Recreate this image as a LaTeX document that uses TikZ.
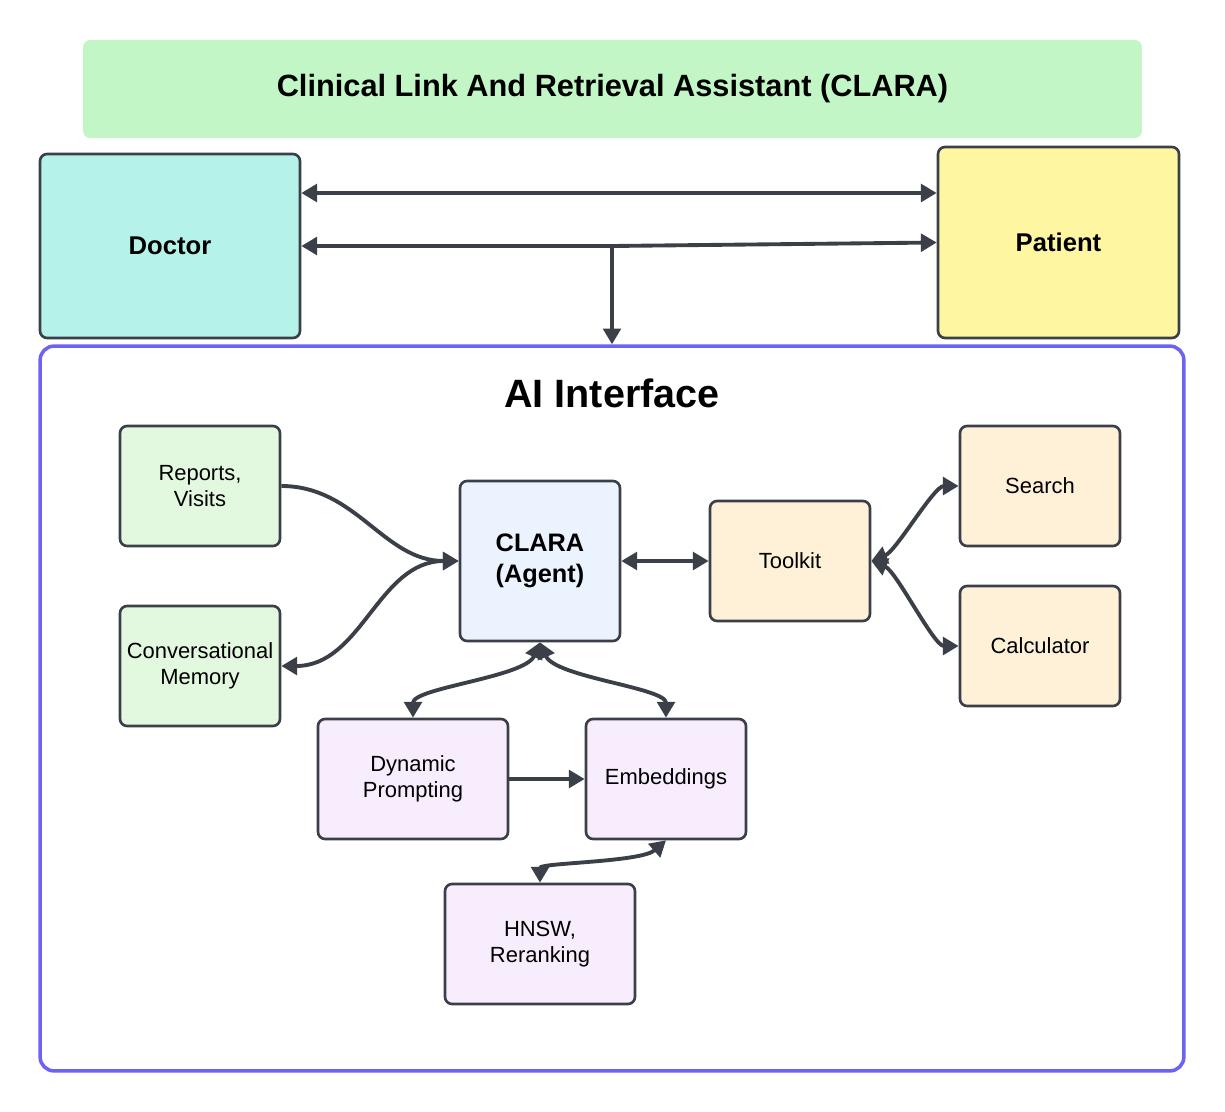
\documentclass[tikz,border=0pt]{standalone}
\usepackage{fontspec}
\setmainfont{Liberation Sans}
\usetikzlibrary{arrows.meta}
\definecolor{dk}{HTML}{3B3F48}
\definecolor{titlefill}{HTML}{C3F6C6}
\definecolor{docfill}{HTML}{B5F3EA}
\definecolor{patfill}{HTML}{FFF6A1}
\definecolor{aiblue}{HTML}{6C63F5}
\definecolor{grnfill}{HTML}{E2F9E0}
\definecolor{bluefill}{HTML}{EBF3FE}
\definecolor{orgfill}{HTML}{FEF1D8}
\definecolor{purfill}{HTML}{F8EDFD}
\begin{document}
\begin{tikzpicture}[x=0.02cm,y=-0.02cm,
  box/.style={draw=dk, line width=1.5pt, rounded corners=4pt, align=center, inner sep=0pt,
    font=\fontsize{12.5}{14.7}\selectfont, text=black},
  smallbox/.style={box, minimum width=3.2cm, minimum height=2.4cm},
  widebox/.style={box, minimum width=3.8cm, minimum height=2.4cm},
  conn/.style={draw=dk, line width=2.2pt, {Triangle[length=9pt,width=10pt]}-{Triangle[length=9pt,width=10pt]}},
  oneway/.style={draw=dk, line width=2.2pt, -{Triangle[length=9pt,width=10pt]}}
]
\useasboundingbox (0,0) rectangle (1225,1112);
\fill[white] (0,0) rectangle (1225,1112);

% title
\node[fill=titlefill, rounded corners=4pt, minimum width=21.18cm, minimum height=1.96cm,
  font=\fontsize{17.5}{21}\selectfont\bfseries] (title) at (612.5,89) {Clinical Link And Retrieval Assistant (CLARA)};

% AI interface frame
\node[draw=aiblue, line width=2pt, rounded corners=8pt, minimum width=22.88cm, minimum height=14.5cm] (ai) at (612,708.5) {};
\node[font=\fontsize{22.5}{27}\selectfont\bfseries] (ailabel) at (612,393) {AI Interface};

% top actors
\node[box, fill=docfill, minimum width=5.2cm, minimum height=3.68cm, font=\fontsize{14.6}{17}\selectfont\bfseries] (doctor) at (170,246) {Doctor};
\node[box, fill=patfill, minimum width=4.82cm, minimum height=3.82cm, font=\fontsize{14.6}{17}\selectfont\bfseries] (patient) at (1058.5,242.5) {Patient};

% inner nodes
\node[smallbox, fill=grnfill] (reports) at (200,486) {Reports,\\Visits};
\node[smallbox, fill=grnfill] (memory) at (200,666) {Conversational\\Memory};
\node[box, fill=bluefill, minimum width=3.2cm, minimum height=3.2cm, font=\fontsize{14.4}{18}\selectfont\bfseries] (clara) at (540,561) {CLARA\\(Agent)};
\node[smallbox, fill=orgfill] (toolkit) at (790,561) {Toolkit};
\node[smallbox, fill=orgfill] (search) at (1040,486) {Search};
\node[smallbox, fill=orgfill] (calc) at (1040,646) {Calculator};
\node[widebox, fill=purfill] (dynp) at (413,779) {Dynamic\\Prompting};
\node[smallbox, fill=purfill] (emb) at (666,779) {Embeddings};
\node[widebox, fill=purfill] (hnsw) at (540,944) {HNSW,\\Reranking};

% top connectors
\coordinate (j) at (612,246);
\draw[conn] (doctor.east |- 0,193) -- (patient.west |- 0,193);
\draw[oneway] (j) -- (doctor.east);
\draw[oneway] (j) -- (patient.west);
\draw[oneway] (j) -- (ai.north);

% inner connectors
\draw[oneway] (reports.east) to[out=0,in=180] (clara.west);
\draw[conn] (clara.west) to[out=180,in=0] (memory.east);
\draw[conn] (clara.east) -- (toolkit.west);
\draw[conn] (toolkit.east) .. controls +(25,-10) and +(-25,0) .. (search.west);
\draw[conn] (toolkit.east) .. controls +(25,10) and +(-25,0) .. (calc.west);
\draw[conn] (clara.south) .. controls +(-15,35) and +(0,-30) .. (dynp.north);
\draw[conn] (clara.south) .. controls +(15,35) and +(0,-30) .. (emb.north);
\draw[oneway] (dynp.east) -- (emb.west);
\draw[conn] (emb.south) .. controls +(-25,22) and +(0,-20) .. (hnsw.north);
\end{tikzpicture}
\end{document}
